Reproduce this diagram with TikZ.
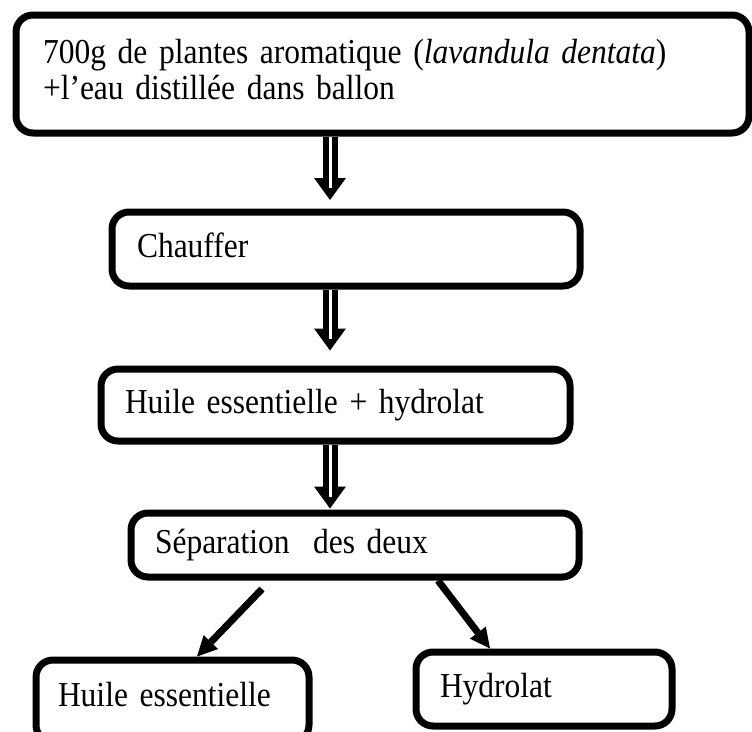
\documentclass[tikz,border=0pt]{standalone}
\usepackage{fontspec}
\setmainfont{Liberation Serif}[FakeStretch=0.9]
\usepackage{xcolor}
\usepackage{tikz}
\usetikzlibrary{arrows.meta}
\definecolor{ink}{HTML}{000000}

\tikzset{
  stepbox/.style={draw=ink, line width=7pt, rounded corners=17pt, inner sep=0pt,
    align=left, text height=22pt, text depth=5pt,
    font=\fontsize{35}{36}\selectfont},
  fatarrow/.style={ink, line width=15pt, shorten >=#1,
    -{Triangle[width=32pt,length=22pt,line width=0pt]},
    postaction={draw=white, line width=3pt, -, shorten >=#1+12pt}},
  thinarrow/.style={ink, line width=7pt,
    -{Triangle[width=20pt,length=20pt,line width=0pt]}}
}

\begin{document}
\begin{tikzpicture}[x=1pt, y=-1pt]
    \useasboundingbox (0,0) rectangle (752,731);
    \coordinate (axis) at (330,0);
    \node[stepbox, minimum width=733pt, minimum height=118pt, text width=679pt, text depth=44pt] (plant) at (382.5,74)
      {700g de plantes aromatique (\textit{lavandula dentata})\\+l’eau distillée dans ballon};
    \node[stepbox, minimum width=468pt, minimum height=74pt, text width=418pt] (heat) at (346,249) {Chauffer};
    \node[stepbox, minimum width=469pt, minimum height=72pt, text width=421pt] (mix) at (335.5,405) {Huile essentielle + hydrolat};
    \node[stepbox, minimum width=448pt, minimum height=64pt, text width=400pt] (sep) at (355,545) {Séparation\ \ des deux};
    \node[stepbox, minimum width=273pt, minimum height=82pt, text width=229pt, text depth=12pt] (oil) at (172.5,701) {Huile essentielle};
    \node[stepbox, minimum width=256pt, minimum height=74pt, text width=208pt] (hydro) at (544,689) {Hydrolat};
    % fleches doubles
    \draw[fatarrow=8.5pt] (plant.south -| axis) -- (heat.north -| axis);
    \draw[fatarrow=15pt] (heat.south -| axis) -- (mix.north -| axis);
    \draw[fatarrow=1pt] (mix.south -| axis) -- (sep.north -| axis);
    % separation
    \draw[thinarrow] ([xshift=-93pt,yshift=-8.5pt]sep.south) -- ([xshift=24.5pt]oil.north);
    \draw[thinarrow] ([xshift=83pt]sep.south) -- ([xshift=-54pt]hydro.north);
  \end{tikzpicture}
\end{document}
